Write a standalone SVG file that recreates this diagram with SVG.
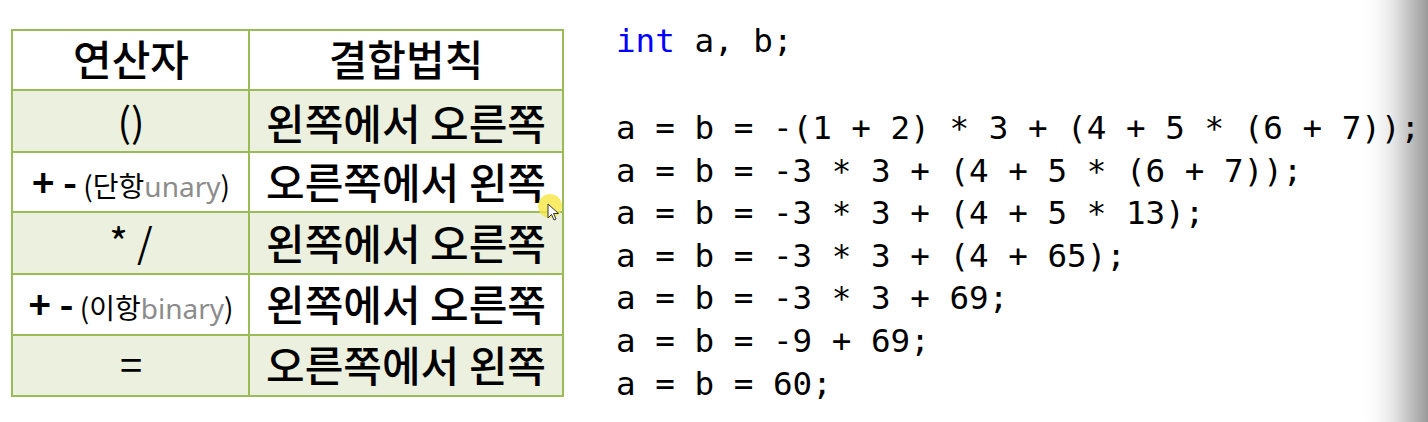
<svg xmlns="http://www.w3.org/2000/svg" width="1428" height="422" viewBox="0 0 1428 422">
<defs>
<linearGradient id="shade" x1="0" y1="0" x2="1" y2="0">
<stop offset="0" stop-color="#ffffff" stop-opacity="0"/>
<stop offset="0.5" stop-color="#e4e4e4"/>
<stop offset="1" stop-color="#9a9a9a"/>
</linearGradient>
<style>
.g{fill:#ebf1de}
.w{fill:#ffffff}
.ln{stroke:#9bbb59;stroke-width:2;fill:none}
.kr{font-family:"Noto Sans CJK KR","Noto Sans",sans-serif;font-weight:400;fill:#000;text-anchor:middle}
.big{font-size:42px;font-weight:500}
.op{font-size:40px}
.pm{font-size:38px;font-weight:700}
.sm{font-size:28px}
.gr{fill:#8c8c8c;font-family:"Noto Sans",sans-serif;font-weight:400}
.code{font-family:"DejaVu Sans Mono","Liberation Mono",monospace;font-size:32.6px;fill:#000}
.kw{fill:#0000ff}
</style>
</defs>
<rect width="1428" height="422" fill="#ffffff"/>
<rect x="1360" y="0" width="68" height="422" fill="url(#shade)"/>
<g id="table">
<rect class="w" x="12" y="30" width="551" height="60"/>
<rect class="g" x="12" y="90" width="551" height="62"/>
<rect class="w" x="12" y="152" width="551" height="60"/>
<rect class="g" x="12" y="212" width="551" height="62"/>
<rect class="w" x="12" y="274" width="551" height="61"/>
<rect class="g" x="12" y="335" width="551" height="61"/>
<rect class="ln" x="12" y="30" width="551" height="366"/>
<path class="ln" d="M249 30V396M12 90H563M12 152H563M12 212H563M12 274H563M12 335H563"/>
</g>
<g id="header">
<text class="kr big" x="131" y="76">연산자</text>
<text class="kr big" x="406" y="76">결합법칙</text>
</g>
<g id="row1">
<text class="kr op" x="131" y="137">()</text>
<text class="kr big" x="406" y="140">왼쪽에서 오른쪽</text>
</g>
<g id="row2">
<text class="kr" x="131" y="197"><tspan class="pm">+ -</tspan><tspan class="sm"> (단항</tspan><tspan class="sm gr">unary</tspan><tspan class="sm">)</tspan></text>
<text class="kr big" x="406" y="199">오른쪽에서 왼쪽</text>
</g>
<g id="row3">
<text class="kr op" x="131" y="258">* /</text>
<text class="kr big" x="406" y="260">왼쪽에서 오른쪽</text>
</g>
<g id="row4">
<text class="kr" x="131" y="319"><tspan class="pm">+ -</tspan><tspan class="sm"> (이항</tspan><tspan class="sm gr">binary</tspan><tspan class="sm">)</tspan></text>
<text class="kr big" x="406" y="321">왼쪽에서 오른쪽</text>
</g>
<g id="row5">
<text class="kr op" x="131" y="380">=</text>
<text class="kr big" x="406" y="382">오른쪽에서 왼쪽</text>
</g>
<g id="code" xml:space="preserve">
<text class="code" x="616" y="52"><tspan class="kw">int</tspan> a, b;</text>
<text class="code" x="616" y="139">a = b = -(1 + 2) * 3 + (4 + 5 * (6 + 7));</text>
<text class="code" x="616" y="182">a = b = -3 * 3 + (4 + 5 * (6 + 7));</text>
<text class="code" x="616" y="224">a = b = -3 * 3 + (4 + 5 * 13);</text>
<text class="code" x="616" y="267">a = b = -3 * 3 + (4 + 65);</text>
<text class="code" x="616" y="309">a = b = -3 * 3 + 69;</text>
<text class="code" x="616" y="352">a = b = -9 + 69;</text>
<text class="code" x="616" y="395">a = b = 60;</text>
</g>
<g id="cursor">
<circle cx="550" cy="206" r="12" fill="#f5e642" fill-opacity="0.8"/>
<path d="M548 204v14l3.5-3.5 2.5 5.5 2-1-2.5-5.5h5z" fill="#ffffff" stroke="#333" stroke-width="1"/>
</g>
</svg>
